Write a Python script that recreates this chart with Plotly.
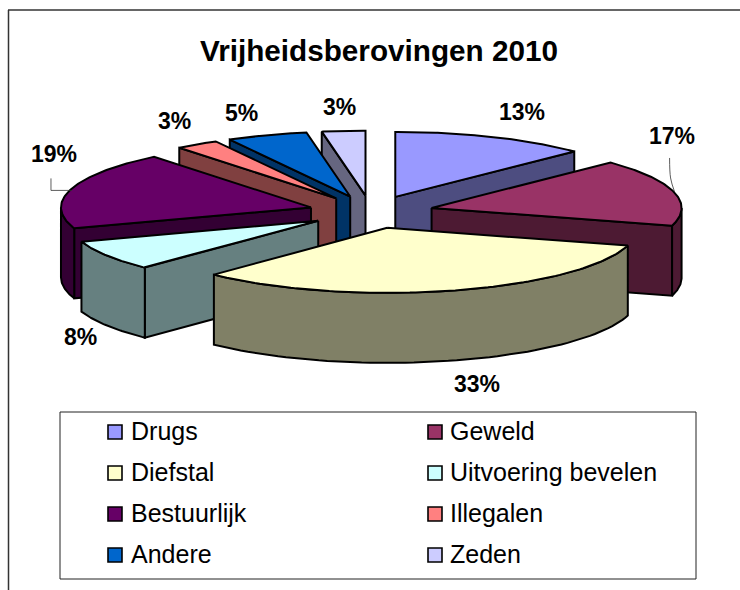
import numpy as np
import plotly.graph_objects as go

# ---------- data ----------
categories = ["Drugs", "Geweld", "Diefstal", "Uitvoering bevelen",
              "Bestuurlijk", "Illegalen", "Andere", "Zeden"]
values = [12.7, 16.7, 32.8, 7.6, 19.4, 2.8, 5.2, 2.8]
title = "Vrijheidsberovingen 2010"

# ---------- styles ----------
top_colors = ["#9999FF", "#993366", "#FFFFCC", "#CCFFFF",
              "#660066", "#FF8080", "#0066CC", "#CCCCFF"]
wall_colors = ["#4D4D80", "#4D1A33", "#808066", "#668080",
               "#330033", "#804040", "#003366", "#666680"]
draw_order = [7, 6, 5, 0, 4, 1, 3, 2]

# projection of the tilted, exploded pie on the page (pixels)
CX, CY = 371, 212
RX, RY = 250, 65
PULL_X, PULL_Y = 62.5, 16.4
DEPTH = 70
OUTLINE = dict(color="#000000", width=2)
FONT = "Liberation Sans, Arial, sans-serif"

# label offsets from each slice's tip (pixels)
label_offsets = [(127, -85), (240, -72), (90, 156), (-238, 116),
                 (-257, -53), (-162, -77), (-109, -84), (-26, -89)]

# ---------- geometry ----------
total = sum(values)
ends = np.cumsum(values) / total * 360.0
starts = np.concatenate(([0.0], ends[:-1]))


def rim(a):
    r = np.radians(a)
    return RX * np.sin(r), -RY * np.cos(r)


def tip(i):
    m = np.radians((starts[i] + ends[i]) / 2)
    return CX + PULL_X * np.sin(m), CY - PULL_Y * np.cos(m)


def poly(fig, xs, ys, color):
    fig.add_trace(go.Scatter(
        x=list(xs), y=list(ys), mode="lines", fill="toself",
        fillcolor=color, line=OUTLINE, showlegend=False, hoverinfo="skip"))


def face(fig, tx, ty, a, color):
    dx, dy = rim(a)
    poly(fig, [tx, tx + dx, tx + dx, tx, tx],
         [ty, ty + dy, ty + dy + DEPTH, ty + DEPTH, ty], color)


fig = go.Figure()

for i in draw_order:
    a0, a1 = starts[i], ends[i]
    tx, ty = tip(i)
    # radial walls that face the viewer
    if np.sin(np.radians(a0)) < -1e-6:
        face(fig, tx, ty, a0, wall_colors[i])
    if np.sin(np.radians(a1)) > 1e-6:
        face(fig, tx, ty, a1, wall_colors[i])
    # curved outer wall (front half only)
    lo, hi = max(a0, 90.0), min(a1, 270.0)
    if hi > lo:
        aa = np.linspace(lo, hi, 60)
        dx, dy = rim(aa)
        poly(fig,
             np.concatenate((tx + dx, (tx + dx)[::-1], [tx + dx[0]])),
             np.concatenate((ty + dy, (ty + dy)[::-1] + DEPTH, [ty + dy[0]])),
             wall_colors[i])
    # top surface
    aa = np.linspace(a0, a1, 90)
    dx, dy = rim(aa)
    poly(fig,
         np.concatenate(([tx], tx + dx, [tx])),
         np.concatenate(([ty], ty + dy, [ty])),
         top_colors[i])

# ---------- leader lines ----------
tx, ty = tip(4)
fig.add_trace(go.Scatter(
    x=[tx - 260, tx - 260, tx - 239], y=[ty - 29, ty - 17, ty - 17],
    mode="lines", line=dict(color="#333333", width=0.8),
    showlegend=False, hoverinfo="skip"))
tx, ty = tip(1)
fig.add_trace(go.Scatter(
    x=[tx + 238, tx + 239, tx + 243], y=[ty - 50, ty - 30, ty - 16],
    mode="lines", line=dict(color="#333333", width=0.8, shape="spline"),
    showlegend=False, hoverinfo="skip"))

# ---------- percentage labels ----------
annotations = []
for i, v in enumerate(values):
    tx, ty = tip(i)
    ox, oy = label_offsets[i]
    annotations.append(dict(
        x=tx + ox, y=ty + oy, xref="x", yref="y", showarrow=False,
        text=f"<b>{round(v / total * 100)}%</b>", xanchor="center", yanchor="middle",
        font=dict(family=FONT, size=23, color="#000000")))

# ---------- legend panel ----------
LEG_X = [115, 435]
LEG_Y = [432, 473, 514, 555]
for i, name in enumerate(categories):
    lx, ly = LEG_X[i % 2], LEG_Y[i // 2]
    fig.add_trace(go.Scatter(
        x=[lx], y=[ly], mode="markers", showlegend=False, hoverinfo="skip",
        marker=dict(symbol="square", size=14, color=top_colors[i],
                    line=dict(color="#000000", width=1.6))))
    annotations.append(dict(
        x=lx + 14 - i % 2, y=ly - 1, xref="x", yref="y", showarrow=False,
        text=name, xanchor="left", yanchor="middle",
        font=dict(family=FONT, size=25, color="#000000")))

shapes = [
    dict(type="rect", x0=60, x1=696, y0=412, y1=579, xref="x", yref="y",
         line=dict(color="#222222", width=1), layer="below"),
    dict(type="line", x0=8.5, x1=8.5, y0=10, y1=590, xref="x", yref="y",
         line=dict(color="#333333", width=1.5)),
    dict(type="line", x0=8, x1=740, y0=10, y1=10, xref="x", yref="y",
         line=dict(color="#333333", width=1.5)),
]

fig.update_layout(
    width=740, height=590, margin=dict(l=0, r=0, t=0, b=0),
    paper_bgcolor="#FFFFFF", plot_bgcolor="#FFFFFF",
    title=dict(text=f"<b>{title}</b>", x=379 / 740, xanchor="center",
               y=1 - 51 / 590, yanchor="middle",
               font=dict(family=FONT, size=29.7, color="#000000")),
    xaxis=dict(range=[0, 740], visible=False, fixedrange=True),
    yaxis=dict(range=[590, 0], visible=False, fixedrange=True),
    showlegend=False, shapes=shapes, annotations=annotations,
)

fig.write_html("out.html", config=dict(displayModeBar=False),
               post_script="document.body.style.margin='0';document.body.style.overflow='hidden';")
